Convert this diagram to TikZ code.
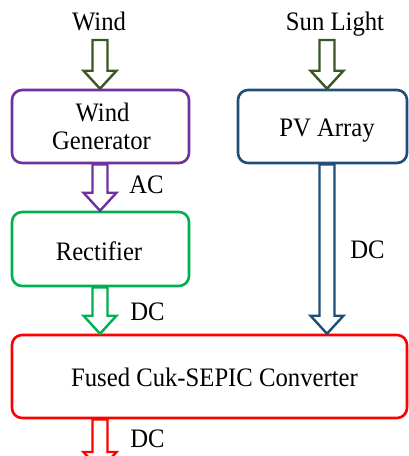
\documentclass[tikz,border=0pt]{standalone}
\usepackage{fontspec}
\setmainfont{Liberation Serif}
\usetikzlibrary{calc}
\definecolor{cpurple}{RGB}{112,48,160}
\definecolor{cgreen}{RGB}{0,176,80}
\definecolor{cblue}{RGB}{31,78,121}
\definecolor{cred}{RGB}{255,0,0}
\definecolor{colive}{RGB}{56,87,35}
\newcommand\tx[1]{\scalebox{1}[1.08]{#1}}
\tikzset{
  box/.style={draw, line width=2.6pt, rounded corners=10pt, inner sep=0pt},
  lbl/.style={font=\fontsize{24.7}{30}\selectfont, inner sep=0pt, anchor=base},
}
\newcommand\blockarrow[3]{%
  \draw[#3, line width=2.4pt, line join=miter, fill=white] let \p1=(#1), \p2=(#2) in
    (\x1-7.5pt,\y1) -- (\x1-7.5pt,\y2+18pt) -- (\x1-16.5pt,\y2+18pt) -- (\x2,\y2)
    -- (\x1+16.5pt,\y2+18pt) -- (\x1+7.5pt,\y2+18pt) -- (\x1+7.5pt,\y1) -- cycle;}
\begin{document}
\begin{tikzpicture}[x=1pt,y=-1pt]
\useasboundingbox (0,0) rectangle (409,456);
\node[lbl] (wind) at (99,30.7) {\tx{Wind}};
\node[lbl] (sun) at (335,30) {\tx{Sun Light}};
\node[box, cpurple, minimum width=177pt, minimum height=73pt] (wg) at (100.5,126.5) {};
\node[lbl] (wgt1) at (102.5,121) {\tx{Wind}};
\node[lbl] (wgt2) at (101.5,149) {\tx{Generator}};
\node[box, cblue, minimum width=169pt, minimum height=73pt] (pv) at (322.5,126.5) {};
\node[lbl] (pvt) at (327,136.7) {\tx{PV Array}};
\node[box, cgreen, minimum width=177pt, minimum height=74pt] (rec) at (100.5,249) {};
\node[lbl] (rect) at (99,260) {\tx{Rectifier}};
\node[box, cred, minimum width=395pt, minimum height=83pt] (fc) at (209.5,376.5) {};
\node[lbl] (fct) at (214.5,386) {\tx{Fused Cuk-SEPIC Converter}};
\coordinate (wtop) at (100,40);
\coordinate (stop) at (327,40);
\coordinate (out) at (100,470);
% arrows
\blockarrow{wtop}{wtop |- wg.north}{colive}
\blockarrow{stop}{stop |- pv.north}{colive}
\blockarrow{wtop |- wg.south}{wtop |- rec.north}{cpurple}
\blockarrow{wtop |- rec.south}{wtop |- fc.north}{cgreen}
\blockarrow{stop |- pv.south}{stop |- fc.north}{cblue}
\begin{scope}
\clip (0,0) rectangle (409,456);
\blockarrow{wtop |- fc.south}{out}{cred}
\end{scope}
\node[lbl] (ac) at (146.5,193.3) {\tx{AC}};
\node[lbl] (dc1) at (147.5,320) {\tx{DC}};
\node[lbl] (dc2) at (367.5,258) {\tx{DC}};
\node[lbl] (dc3) at (147.5,447.5) {\tx{DC}};
\end{tikzpicture}
\end{document}
